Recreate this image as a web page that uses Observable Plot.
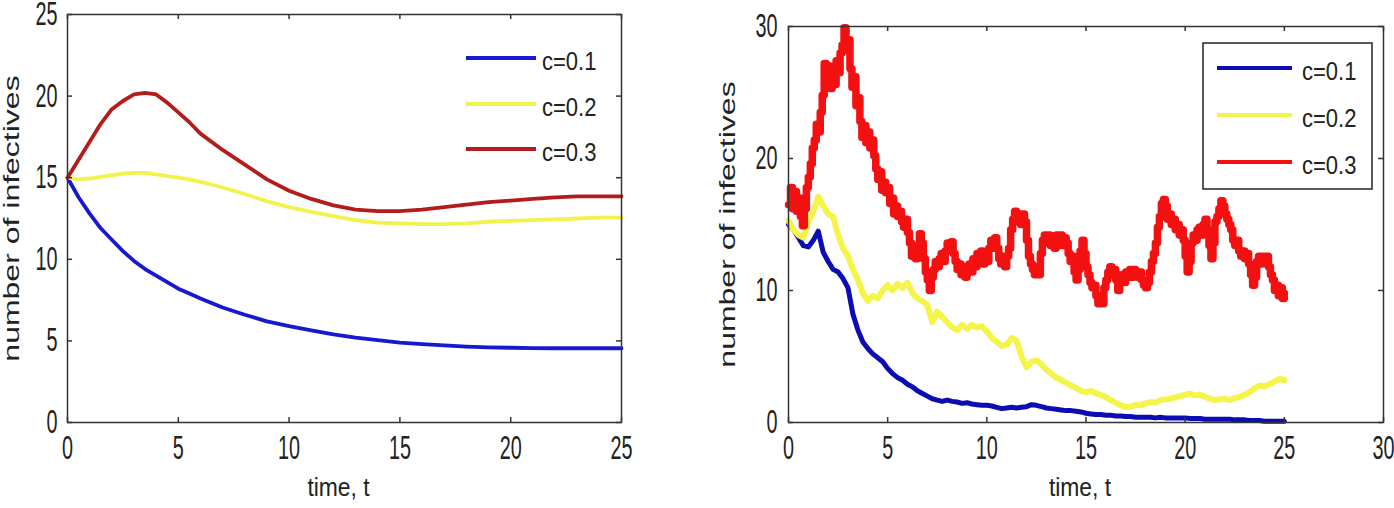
<!DOCTYPE html>
<html><head><meta charset="utf-8">
<script src="https://cdn.jsdelivr.net/npm/d3@7"></script>
<script src="https://cdn.jsdelivr.net/npm/@observablehq/plot@0.6"></script>
<style>
body{margin:0;background:#fff;}
#wrap{position:relative;width:1394px;height:508px;overflow:hidden;background:#fff;}
.panel{position:absolute;top:0;height:508px;}
.panel svg{max-width:none;overflow:visible;}
</style></head><body>
<div id="wrap">
  <div id="left" class="panel" style="left:0;width:700px"></div>
  <div id="right" class="panel" style="left:700px;width:694px"></div>
</div>
<script>
// ---------- data ----------
const seriesNames = ["c=0.1", "c=0.2", "c=0.3"];
const leftColors = ["#1818d0", "#f2f24c", "#b41c1c"];
const rightColors = ["#0c0cb4", "#f4f44a", "#f21010"];
const xLabel = "time, t";
const yLabel = "number of infectives";

// Left panel (deterministic)
const leftT = [0,0.5,1,1.5,2,2.5,3,3.5,4,4.5,5,5.5,6,7,8,9,10,11,12,13,14,15,16,17,18,19,20,21,22,23,24,25];
const leftBlue = [15,13.8,12.8,11.9,11.2,10.5,9.9,9.4,9.0,8.6,8.2,7.9,7.6,7.05,6.6,6.2,5.9,5.65,5.4,5.2,5.05,4.9,4.8,4.72,4.65,4.6,4.58,4.56,4.55,4.55,4.55,4.55];
const leftYellow = [15,14.9,14.95,15.05,15.15,15.25,15.3,15.3,15.2,15.1,15.0,14.9,14.75,14.4,14.0,13.55,13.2,12.9,12.65,12.4,12.25,12.2,12.15,12.15,12.2,12.3,12.35,12.4,12.45,12.5,12.55,12.55];
const leftRed = [15,16.1,17.2,18.3,19.2,19.7,20.1,20.2,20.1,19.6,19.0,18.4,17.7,16.7,15.8,14.9,14.2,13.7,13.3,13.05,12.95,12.95,13.05,13.2,13.35,13.5,13.6,13.7,13.8,13.85,13.85,13.85];
const leftXTicks = [0,5,10,15,20,25];
const leftYTicks = [0,5,10,15,20,25];

// Right panel (stochastic); sample step for each series
const redStep = 0.1;
const rightRed = [16.5,17.8,16.2,17.5,16.0,17.0,15.6,14.9,16.2,17.8,
18.6,19.6,20.8,21.4,22.6,22.0,23.5,24.8,27.2,25.4,
27.0,25.3,26.8,25.6,27.4,26.5,28.0,28.6,29.9,28.2,
29.0,26.8,25.4,26.2,24.0,24.6,22.8,21.6,22.5,21.2,
22.0,20.8,21.4,20.2,19.2,18.4,19.0,17.6,18.2,17.4,
17.8,16.6,17.0,15.8,16.4,15.6,16.0,15.2,14.8,15.4,
14.4,13.6,12.6,13.2,12.4,13.4,14.3,13.6,12.4,11.4,
10.8,10.0,11.0,11.6,12.2,11.8,12.4,12.8,12.2,13.0,
13.6,13.2,13.7,12.8,12.2,11.6,12.0,11.2,11.8,11.0,
11.4,12.0,11.4,12.4,11.8,12.8,12.2,13.0,12.0,12.6,
12.2,13.2,13.8,13.2,14.0,13.2,12.4,12.0,12.6,11.8,
12.6,13.2,14.6,15.4,16.0,15.2,15.8,15.0,15.8,15.2,
13.8,12.6,12.0,11.6,11.2,11.8,11.2,12.8,13.8,14.2,
13.6,14.2,13.4,14.0,13.2,14.2,13.6,14.2,13.4,14.0,
13.6,12.8,12.2,12.6,11.4,10.8,11.6,13.0,13.8,12.8,
11.8,11.2,10.6,10.2,10.4,9.6,9.0,9.4,9.0,10.2,
10.8,11.4,11.8,11.2,11.6,10.8,10.0,10.6,11.2,10.6,
11.4,11.0,11.6,11.0,11.6,11.2,11.0,11.4,10.8,10.4,
10.2,10.6,11.4,12.2,12.8,13.6,14.8,15.6,16.6,16.9,
16.4,15.4,15.8,15.0,15.4,14.6,15.0,14.2,14.6,13.8,
12.6,11.4,12.2,13.6,14.2,13.8,14.6,14.8,14.2,15.0,
15.4,14.6,13.4,12.4,13.6,15.2,15.6,16.2,16.8,16.4,
15.8,15.4,15.0,14.6,13.8,13.4,13.8,13.0,12.6,13.0,
12.4,12.8,12.0,11.2,10.4,11.0,12.2,12.6,12.0,12.6,
12.2,12.6,11.8,11.2,10.8,10.0,10.4,9.6,10.2,9.4,
9.8];
const ybStep = 0.25;
const rightYellow = [15.3,14.6,14.2,14.0,15.2,16.0,17.1,16.4,15.8,15.6,
14.2,13.2,12.6,11.6,10.8,9.8,9.2,9.6,9.4,10.0,
10.4,10.0,10.5,10.2,10.6,9.8,9.4,9.2,8.9,7.6,
8.4,8.0,7.6,7.2,7.0,7.4,7.1,7.4,7.2,7.3,
6.9,6.4,6.1,5.8,5.9,6.4,6.2,5.0,4.2,4.6,
4.7,4.4,4.0,3.7,3.4,3.2,3.0,2.8,2.6,2.4,
2.3,2.4,2.2,2.1,1.9,1.7,1.5,1.3,1.15,1.2,
1.35,1.3,1.45,1.55,1.5,1.7,1.75,1.8,1.9,2.0,
2.1,2.2,2.05,2.1,1.95,1.8,1.7,1.75,1.8,1.7,
1.85,1.95,2.1,2.3,2.6,2.8,2.75,2.9,3.1,3.3,
3.2];
const rightBlue = [15.0,14.6,14.0,13.4,13.3,13.8,14.5,12.9,12.2,11.6,
11.4,10.9,10.2,8.2,7.0,6.1,5.6,5.2,4.9,4.6,
4.1,3.7,3.4,3.2,2.9,2.7,2.4,2.2,2.0,1.8,
1.7,1.6,1.7,1.6,1.55,1.45,1.5,1.4,1.35,1.3,
1.3,1.25,1.15,1.05,1.1,1.15,1.1,1.15,1.2,1.35,
1.3,1.2,1.1,1.05,1.0,0.95,0.9,0.9,0.85,0.8,
0.7,0.65,0.6,0.6,0.55,0.55,0.5,0.5,0.45,0.45,
0.4,0.4,0.4,0.4,0.35,0.4,0.35,0.35,0.35,0.35,
0.35,0.3,0.3,0.3,0.25,0.25,0.25,0.25,0.25,0.25,
0.2,0.2,0.2,0.15,0.15,0.15,0.1,0.1,0.1,0.1,
0.1];
const rightXTicks = [0,5,10,15,20,25,30];
const rightYTicks = [0,10,20,30];

// ---------- helpers ----------
const FONT = "'Liberation Sans', Arial, Helvetica, sans-serif";
const INK = "#222";
function rowsOf(ts, vs, s) { return vs.map((v, i) => ({t: ts[i], v, s})); }
function rowsStep(step, vs, s) { return vs.map((v, i) => ({t: +(i * step).toFixed(3), v, s})); }

function stretchText(svg) {
  svg.querySelectorAll("text").forEach(t => {
    const tr = t.getAttribute("transform");
    const sx = t.textContent === xLabel ? 0.88 : 0.6;
    if (tr && /rotate/.test(tr)) t.setAttribute("transform", tr + ` scale(1,0.68)`);
    else if (tr) t.setAttribute("transform", tr + ` scale(${sx},1)`);
    else {
      const x = +(t.getAttribute("x") || 0), y = +(t.getAttribute("y") || 0);
      t.removeAttribute("x"); t.removeAttribute("y");
      t.setAttribute("transform", `translate(${x},${y}) scale(${sx},1)`);
    }
  });
}

function panel({width, height, mt, mr, mb, ml, xDomain, yDomain, xTicks, yTicks, lineMarks, yPad, yLabelDx, xLabelDy}) {
  const pw = width - ml - mr, ph = height - mt - mb;
  const tickLen = 5;
  const svg = Plot.plot({
    width, height, marginTop: mt, marginRight: mr, marginBottom: mb, marginLeft: ml,
    x: {domain: xDomain, label: null},
    y: {domain: yDomain, label: null},
    style: {fontFamily: FONT, fontSize: "33px", color: INK, background: "#fff"},
    marks: [
      ...lineMarks,
      Plot.frame({stroke: "#333", strokeWidth: 1.5}),
      Plot.tickX(xTicks, {x: d => d, insetTop: ph - tickLen, stroke: "#333", strokeWidth: 1.5}),
      Plot.tickX(xTicks, {x: d => d, insetBottom: ph - tickLen, stroke: "#333", strokeWidth: 1.5}),
      Plot.tickY(yTicks, {y: d => d, insetRight: pw - tickLen, stroke: "#333", strokeWidth: 1.5}),
      Plot.tickY(yTicks, {y: d => d, insetLeft: pw - tickLen, stroke: "#333", strokeWidth: 1.5}),
      Plot.axisX({ticks: xTicks, tickSize: 0, tickPadding: 13, label: null, fill: INK}),
      Plot.axisY({ticks: yTicks, tickSize: 0, tickPadding: yPad, label: null, fill: INK}),
      Plot.text([xLabel], {text: d => d, frameAnchor: "bottom", dy: xLabelDy, dx: -6, fontSize: 26, textAnchor: "middle", lineAnchor: "middle", fill: INK}),
      Plot.text([yLabel], {text: d => d, frameAnchor: "left", dx: yLabelDx, rotate: -90, fontSize: 32, textAnchor: "middle", fill: INK})
    ]
  });
  return svg;
}

function legend(host, {box, x1, x2, tx, rows, colors, widths}) {
  const svg = d3.select(host).append("svg")
    .attr("width", host.clientWidth || 700).attr("height", 508)
    .style("position", "absolute").style("left", 0).style("top", 0).style("overflow", "visible");
  if (box) svg.append("rect").attr("x", box[0]).attr("y", box[1]).attr("width", box[2]).attr("height", box[3])
    .attr("fill", "#fff").attr("stroke", "#222").attr("stroke-width", 1.5);
  seriesNames.forEach((name, i) => {
    svg.append("line").attr("x1", x1).attr("x2", x2).attr("y1", rows[i]).attr("y2", rows[i])
      .attr("stroke", colors[i]).attr("stroke-width", widths[i]);
    svg.append("text").attr("transform", `translate(${tx},${rows[i] + 5}) scale(0.88,1)`)
      .attr("dominant-baseline", "middle").attr("font-family", FONT).attr("font-size", 25)
      .attr("fill", INK).text(name);
  });
}

// ---------- left panel ----------
const leftRows = [
  ...rowsOf(leftT, leftBlue, seriesNames[0]),
  ...rowsOf(leftT, leftYellow, seriesNames[1]),
  ...rowsOf(leftT, leftRed, seriesNames[2])
];
const leftSvg = panel({
  width: 700, height: 508, mt: 14, mr: 79, mb: 86, ml: 67,
  xDomain: [0, 25], yDomain: [0, 25], xTicks: leftXTicks, yTicks: leftYTicks, yPad: 10,
  yLabelDx: -55, xLabelDy: 65,
  lineMarks: [Plot.line(leftRows, {x: "t", y: "v", z: "s", stroke: d => leftColors[seriesNames.indexOf(d.s)], strokeWidth: 3.8})]
});
stretchText(leftSvg);
document.getElementById("left").append(leftSvg);
legend(document.getElementById("left"), {box: null, x1: 466, x2: 536, tx: 542, rows: [58, 104, 149], colors: leftColors, widths: [3.8, 3.8, 3.8]});

// ---------- right panel ----------
const rb = rowsStep(ybStep, rightBlue, seriesNames[0]);
const ry = rowsStep(ybStep, rightYellow, seriesNames[1]);
const rr = rowsStep(redStep, rightRed, seriesNames[2]);
const rightSvg = panel({
  width: 694, height: 508, mt: 26, mr: 11, mb: 86, ml: 88,
  xDomain: [0, 30], yDomain: [0, 30], xTicks: rightXTicks, yTicks: rightYTicks, yPad: 11,
  yLabelDx: -60, xLabelDy: 65,
  lineMarks: [
    Plot.line(rb, {x: "t", y: "v", stroke: rightColors[0], strokeWidth: 5}),
    Plot.line(ry, {x: "t", y: "v", stroke: rightColors[1], strokeWidth: 6}),
    Plot.line(rr, {x: "t", y: "v", stroke: rightColors[2], strokeWidth: 7.5, curve: "step-after"})
  ]
});
stretchText(rightSvg);
document.getElementById("right").append(rightSvg);
legend(document.getElementById("right"), {box: [503, 43, 169, 146], x1: 517, x2: 592, tx: 602, rows: [68, 115, 162], colors: rightColors, widths: [4, 4, 4]});
</script>
</body></html>
